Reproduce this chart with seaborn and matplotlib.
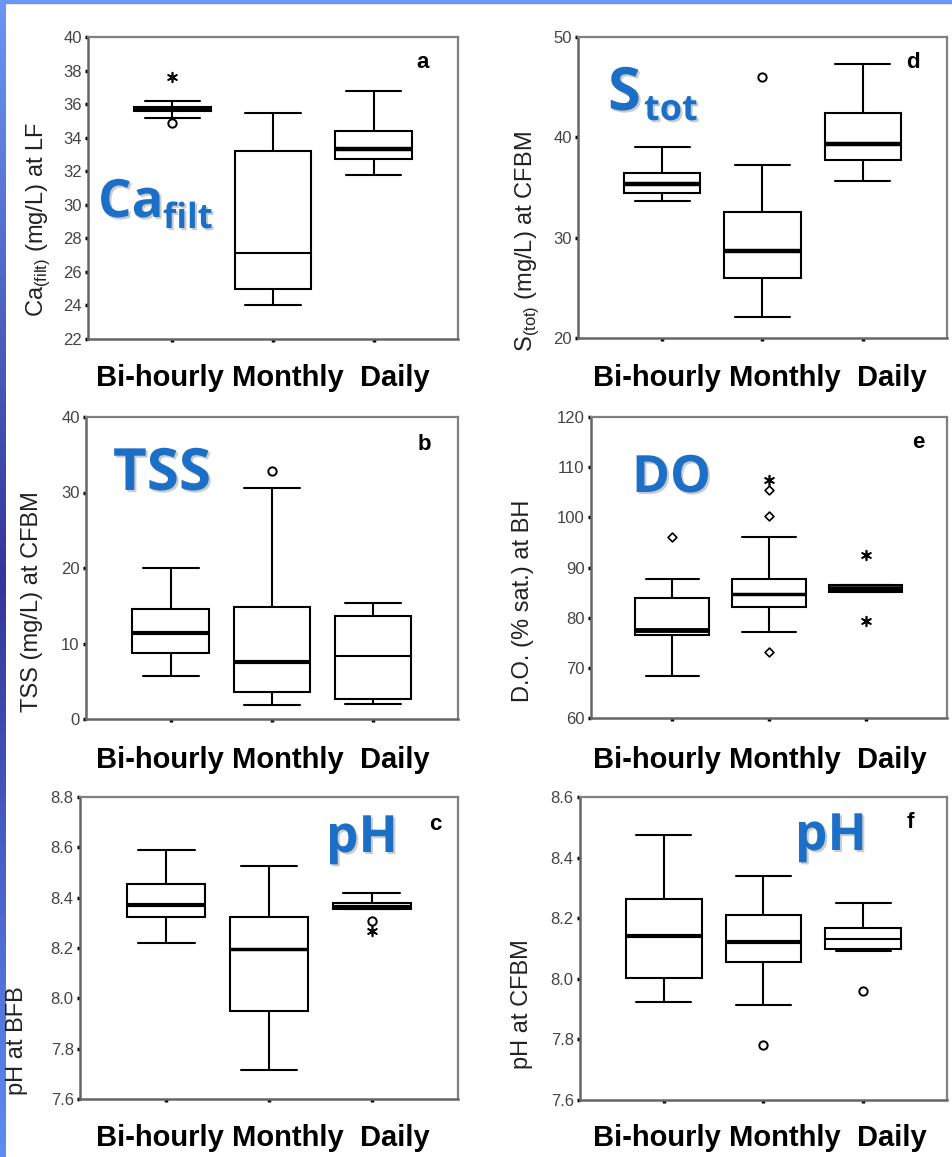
import numpy as np
import pandas as pd
import seaborn as sns
import matplotlib.pyplot as plt
import matplotlib.patheffects as pe
from matplotlib.colors import LinearSegmentedColormap
from matplotlib.patches import Rectangle

groups = ["Bi-hourly", "Monthly", "Daily"]

# five-number summaries per group: whisker low, Q1, median, Q3, whisker high
ca_stats = [[35.2, 35.6, 35.7, 35.85, 36.2],
            [24.0, 25.0, 27.1, 33.2, 35.5],
            [31.8, 32.7, 33.35, 34.4, 36.8]]
ca_out_group = ["Bi-hourly", "Bi-hourly"]
ca_out_value = [34.85, 37.6]
ca_out_kind = ["o", "*"]

tss_stats = [[5.7, 8.7, 11.4, 14.6, 20.0],
             [1.9, 3.6, 7.6, 14.9, 30.6],
             [2.0, 2.6, 8.3, 13.6, 15.4]]
tss_out_group = ["Monthly"]
tss_out_value = [32.9]
tss_out_kind = ["o"]

ph_bfb_stats = [[8.22, 8.325, 8.37, 8.455, 8.59],
                [7.715, 7.95, 8.195, 8.325, 8.525],
                [8.355, 8.355, 8.362, 8.378, 8.417]]
ph_bfb_out_group = ["Daily", "Daily"]
ph_bfb_out_value = [8.308, 8.268]
ph_bfb_out_kind = ["o", "*"]

s_stats = [[33.7, 34.5, 35.35, 36.4, 39.0],
           [22.1, 26.0, 28.7, 32.6, 37.2],
           [35.6, 37.7, 39.3, 42.4, 47.3]]
s_out_group = ["Monthly"]
s_out_value = [46.0]
s_out_kind = ["o"]

do_stats = [[68.3, 76.5, 77.6, 84.0, 87.8],
            [77.1, 82.2, 84.7, 87.8, 96.1],
            [85.2, 85.2, 85.8, 86.5, 86.5]]
do_out_group = ["Bi-hourly", "Monthly", "Monthly", "Monthly", "Monthly", "Daily", "Daily"]
do_out_value = [96.1, 107.5, 105.4, 100.2, 73.2, 92.5, 79.3]
do_out_kind = ["d", "*", "d", "d", "d", "*", "*"]

ph_cfbm_stats = [[7.923, 8.003, 8.141, 8.265, 8.476],
                 [7.913, 8.055, 8.122, 8.212, 8.34],
                 [8.091, 8.1, 8.133, 8.169, 8.25]]
ph_cfbm_out_group = ["Monthly", "Daily"]
ph_cfbm_out_value = [7.782, 7.959]
ph_cfbm_out_kind = ["o", "o"]

sns.set_style("white")
plt.rcParams['font.family'] = ['Liberation Sans', 'DejaVu Sans']
plt.rcParams['mathtext.fontset'] = 'custom'
plt.rcParams['mathtext.rm'] = 'Liberation Sans'

W, H = 953, 1157
fig = plt.figure(figsize=(W / 100, H / 100), dpi=100)

BLUE = "#1b6fc6"
marker_styles = {
    "o": dict(marker="o", size=6, color="white", edgecolor="black", linewidth=1.4),
    "*": dict(marker=(6, 2, 0), size=7, color="black", edgecolor="black", linewidth=1.2),
    "d": dict(marker="D", size=4.5, color="white", edgecolor="black", linewidth=1.2),
}


def px_axes(l, r, t, b):
    return fig.add_axes([l / W, 1 - b / H, (r - l) / W, (b - t) / H])


def ftext(x, y, s, **kw):
    return fig.text(x / W, 1 - y / H, s, **kw)


def draw_panel(box, stats, og, ov, ok, ylim, yticks, fmt, med_lw):
    ax = px_axes(*box)
    rows = [(g, v) for g, s in zip(groups, stats) for v in s]
    df = pd.DataFrame(rows, columns=["group", "value"])
    sns.boxplot(data=df, x="group", y="value", order=groups, whis=(0, 100),
                width=0.76, color="white", linecolor="black", linewidth=1.5,
                showfliers=False, capwidths=0.55, ax=ax)
    bp = ax.containers[0]
    for line, lw in zip(bp.medians, med_lw):
        line.set_linewidth(lw)
    out = pd.DataFrame({"group": og, "value": ov, "kind": ok})
    for kind, sub in out.groupby("kind"):
        sns.stripplot(data=sub, x="group", y="value", order=groups, jitter=False,
                      ax=ax, zorder=5, **marker_styles[kind])
    ax.set_xlim(-0.84, 2.84)
    ax.set_ylim(*ylim)
    ax.set_yticks(yticks)
    ax.set_yticklabels([fmt.format(t) for t in yticks])
    ax.set_xticks([0, 1, 2])
    ax.set_xticklabels([])
    ax.set_xlabel("")
    ax.set_ylabel("")
    for side in ["top", "right"]:
        ax.spines[side].set_color("#808080")
        ax.spines[side].set_linewidth(1.6)
    for side in ["left", "bottom"]:
        ax.spines[side].set_color("#666666")
        ax.spines[side].set_linewidth(1.8)
    ax.tick_params(axis="both", direction="out", length=2.5, width=2.5, color="black",
                   labelsize=12, labelcolor="#444444", pad=2, bottom=True, left=True)
    return ax


def int_ticks(a, b, step):
    return list(np.arange(a, b + step / 2, step))


panels = [
    dict(box=(88, 458, 37, 339), stats=ca_stats, og=ca_out_group, ov=ca_out_value, ok=ca_out_kind,
         ylim=(22, 40), yticks=int_ticks(22, 40, 2), fmt="{:.0f}", med=[3.2, 1.5, 3.2],
         ylabel=r"Ca$_{\rm(filt)}$ (mg/L) at LF", ylab_pos=(38, 220), letter=("a", 423, 68),
         xlab=(263, 364)),
    dict(box=(578, 947, 37, 338), stats=s_stats, og=s_out_group, ov=s_out_value, ok=s_out_kind,
         ylim=(20, 50), yticks=int_ticks(20, 50, 10), fmt="{:.0f}", med=[3.2, 3.2, 3.2],
         ylabel=r"S$_{\rm(tot)}$ (mg/L) at CFBM", ylab_pos=(527, 242), letter=("d", 913, 68),
         xlab=(760, 364)),
    dict(box=(86, 458, 417, 719), stats=tss_stats, og=tss_out_group, ov=tss_out_value, ok=tss_out_kind,
         ylim=(0, 40), yticks=int_ticks(0, 40, 10), fmt="{:.0f}", med=[3.0, 3.0, 1.5],
         ylabel="TSS (mg/L) at CFBM", ylab_pos=(32, 602), letter=("b", 424, 450),
         xlab=(263, 746)),
    dict(box=(591, 947, 417, 718), stats=do_stats, og=do_out_group, ov=do_out_value, ok=do_out_kind,
         ylim=(60, 120), yticks=int_ticks(60, 120, 10), fmt="{:.0f}", med=[3.5, 2.5, 4.0],
         ylabel="D.O. (% sat.) at BH", ylab_pos=(523, 601), letter=("e", 918, 448),
         xlab=(760, 746)),
    dict(box=(80, 458, 797, 1099), stats=ph_bfb_stats, og=ph_bfb_out_group, ov=ph_bfb_out_value,
         ok=ph_bfb_out_kind, ylim=(7.6, 8.8), yticks=int_ticks(7.6, 8.8, 0.2), fmt="{:.1f}",
         med=[3.0, 2.5, 3.0], ylabel="pH at BFB", ylab_pos=(17, 1041), letter=("c", 435, 830),
         xlab=(263, 1124)),
    dict(box=(580, 947, 797, 1100), stats=ph_cfbm_stats, og=ph_cfbm_out_group, ov=ph_cfbm_out_value,
         ok=ph_cfbm_out_kind, ylim=(7.6, 8.6), yticks=int_ticks(7.6, 8.6, 0.2), fmt="{:.1f}",
         med=[3.0, 3.0, 1.5], ylabel="pH at CFBM", ylab_pos=(522, 1004), letter=("f", 910, 828),
         xlab=(760, 1124)),
]

for p in panels:
    draw_panel(p["box"], p["stats"], p["og"], p["ov"], p["ok"], p["ylim"], p["yticks"],
               p["fmt"], p["med"])
    ftext(*p["ylab_pos"], p["ylabel"], rotation=90, ha="center", va="center",
          fontsize=17, color="#222222")
    l, x, y = p["letter"]
    ftext(x, y, l, ha="center", va="baseline", fontsize=16, fontweight="bold", color="black")
    ftext(*p["xlab"], "Bi-hourly Monthly  Daily", ha="center", va="top",
          fontsize=21, fontweight="bold", color="black")

# big blue labels
shadow = [pe.withSimplePatchShadow(offset=(1.5, -1.5), shadow_rgbFace="#999999", alpha=0.5)]
blue_kw = dict(color=BLUE, fontweight="bold", family=["Open Sans", "DejaVu Sans"],
               va="baseline", ha="left", path_effects=shadow)
ftext(98, 217, "Ca", fontsize=38, **blue_kw)
ftext(163, 228, "filt", fontsize=25, **blue_kw)
ftext(608, 110, "S", fontsize=43, **blue_kw)
ftext(644, 120, "tot", fontsize=26, **blue_kw)
ftext(113, 490, "TSS", fontsize=42, **blue_kw)
ftext(632, 492, "DO", fontsize=37, **blue_kw)
ftext(326, 852, "pH", fontsize=37, **blue_kw)
ftext(795, 850, "pH", fontsize=37, **blue_kw)

# slide border
cmap = LinearSegmentedColormap.from_list("edge", ["#6c96f4", "#34359a", "#5f8cf2"])
bax = fig.add_axes([0, 0, 6 / W, 1])
bax.imshow(np.linspace(0, 1, 256).reshape(-1, 1), aspect="auto", cmap=cmap)
bax.axis("off")
fig.add_artist(Rectangle((0, 1 - 3 / H), 1, 3 / H, transform=fig.transFigure,
                         color="#6c96f4", zorder=10))

fig.savefig("out.png", dpi=100, facecolor="white")
